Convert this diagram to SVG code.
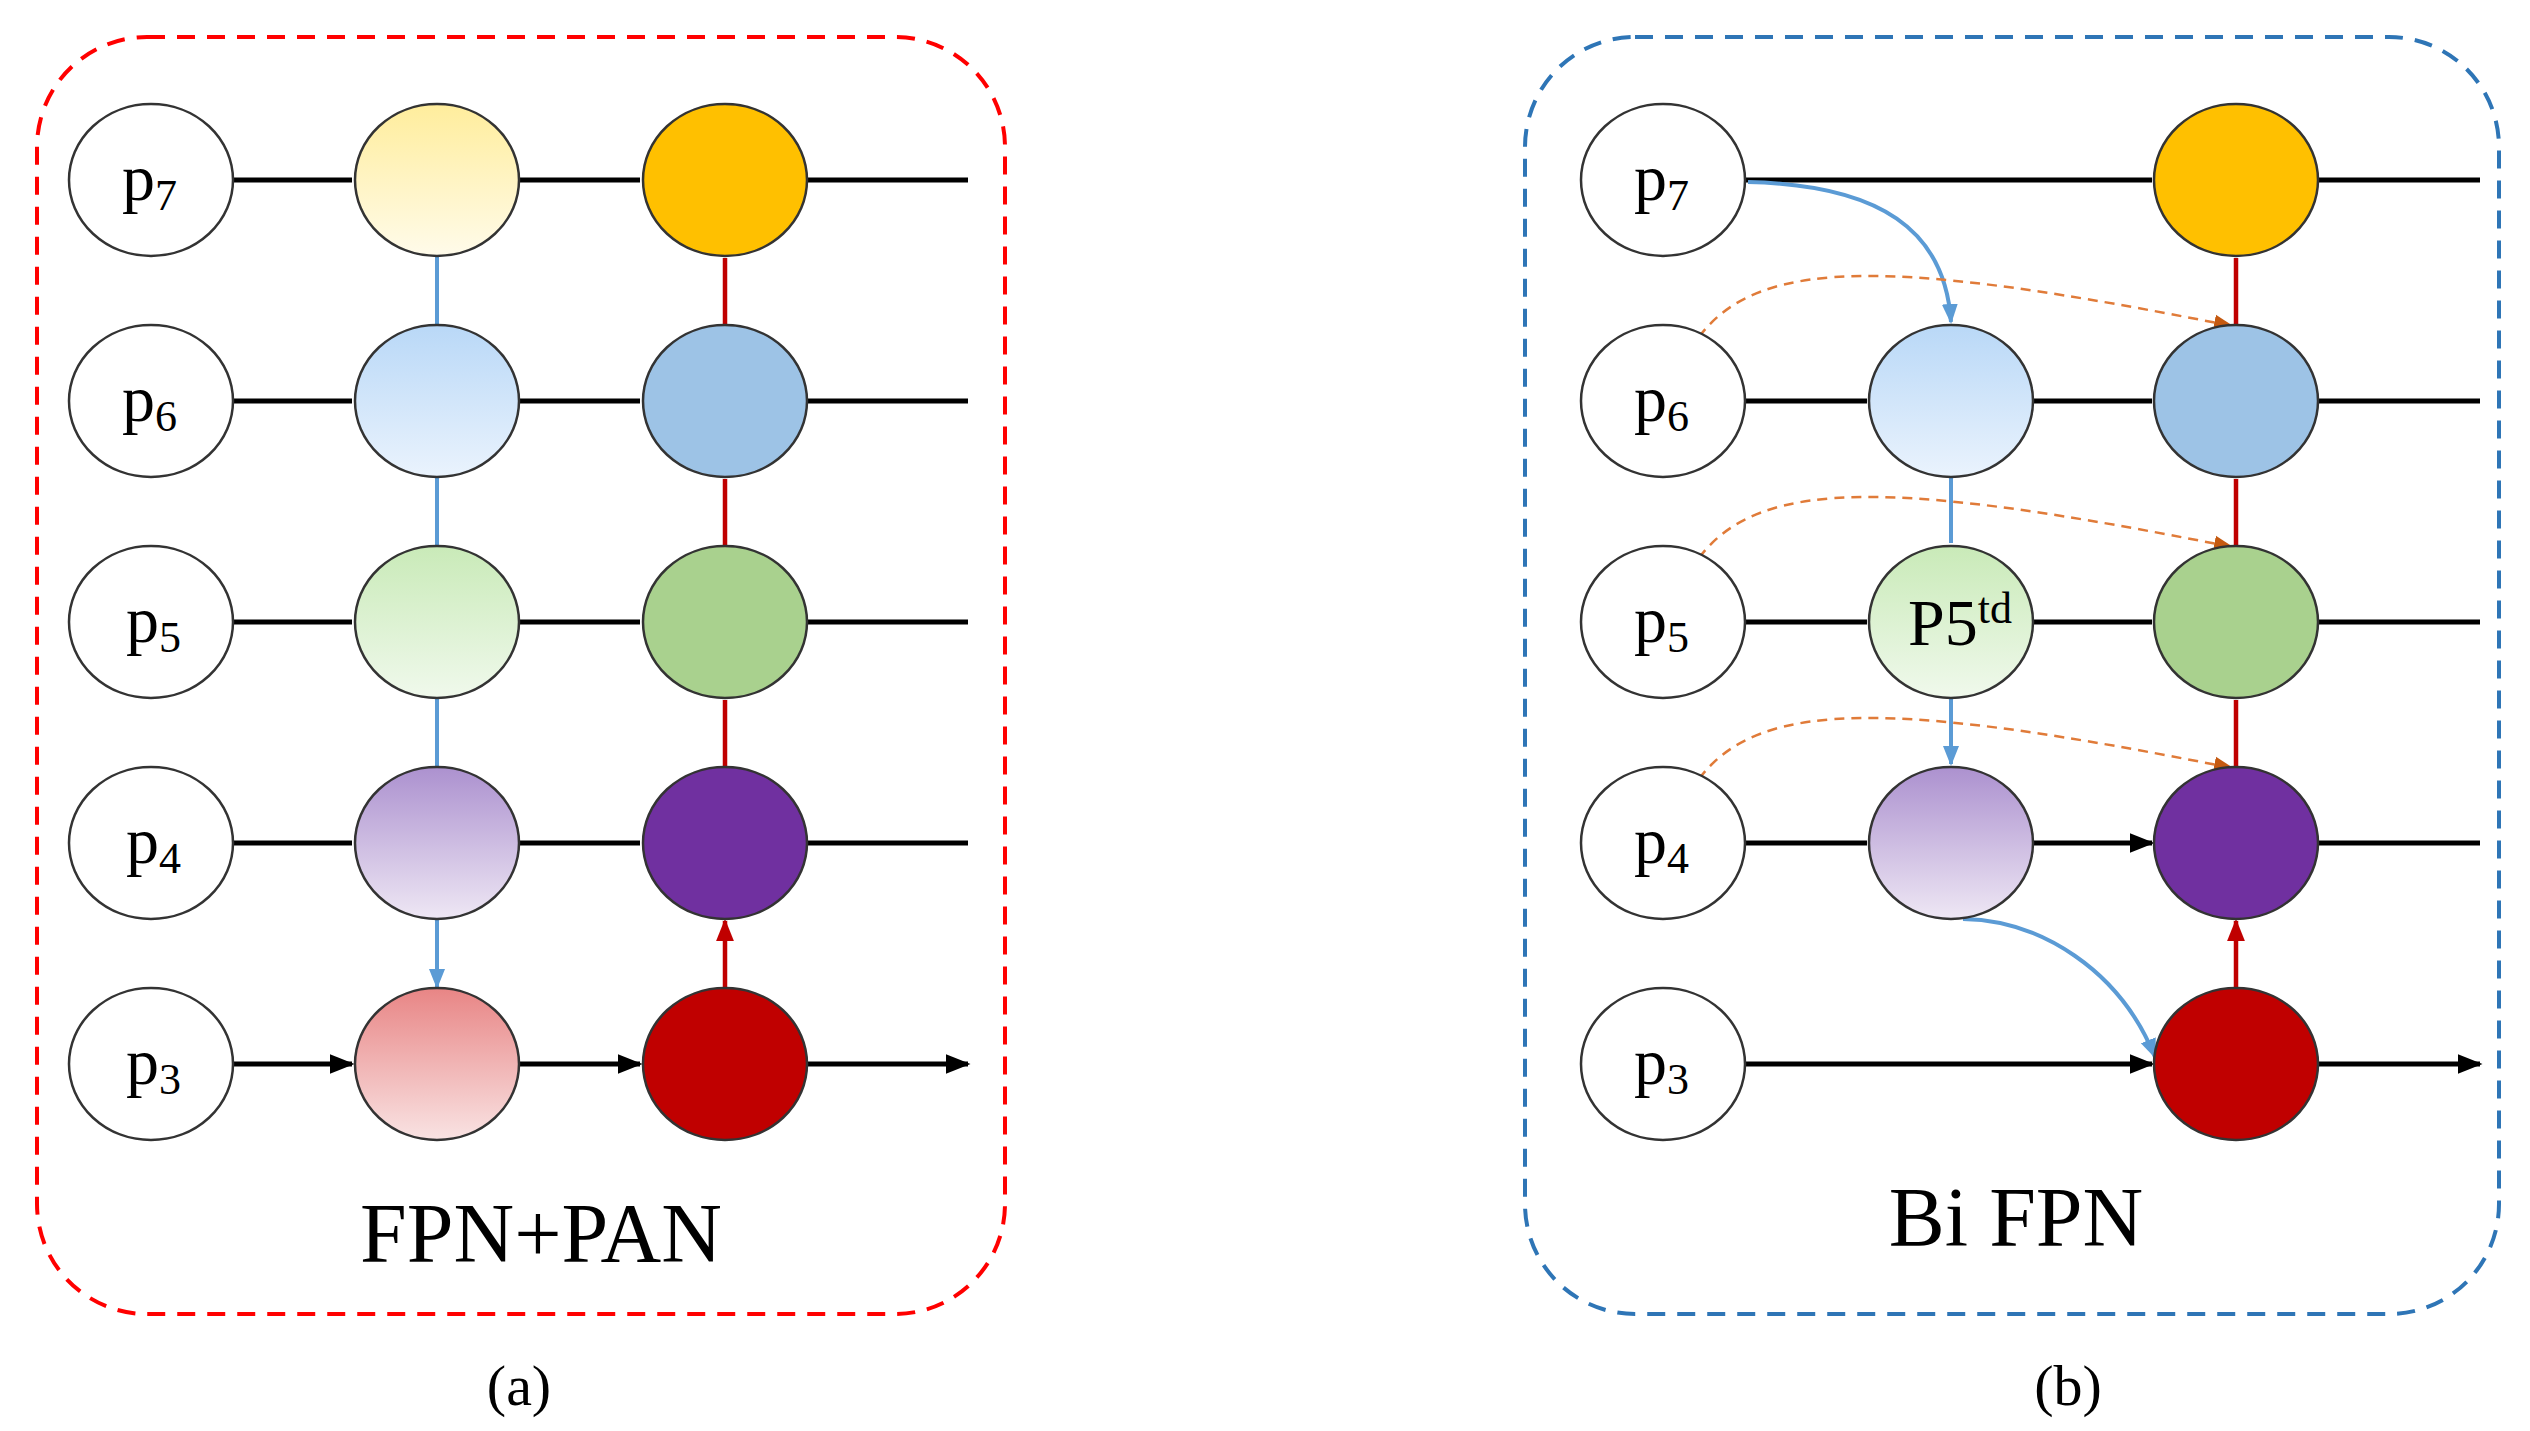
<svg xmlns="http://www.w3.org/2000/svg" width="2530" height="1431" viewBox="0 0 2530 1431">
<style>
.e{stroke:#333;stroke-width:2.5}
.w{fill:#fff}
.k{stroke:#000;stroke-width:5;fill:none}
.b{stroke:#5b9bd5;stroke-width:4;fill:none}
.r{stroke:#c00000;stroke-width:4.5;fill:none}
.o{stroke:#e07b39;stroke-width:2.5;fill:none;stroke-dasharray:10 7}
.t{font-family:"Liberation Serif",serif;font-size:66px;fill:#000}
.s{font-size:44px}
</style>
<defs>
<marker id="ak" viewBox="0 0 10 10" refX="9" refY="5" markerWidth="5" markerHeight="5" orient="auto" markerUnits="strokeWidth"><path d="M0,1L10,5L0,9z" fill="#000"/></marker>
<marker id="ab" viewBox="0 0 10 10" refX="9" refY="5" markerWidth="5" markerHeight="5" orient="auto" markerUnits="strokeWidth"><path d="M0,1L10,5L0,9z" fill="#5b9bd5"/></marker>
<marker id="ar" viewBox="0 0 10 10" refX="9" refY="5" markerWidth="5" markerHeight="5" orient="auto" markerUnits="strokeWidth"><path d="M0,1L10,5L0,9z" fill="#c00000"/></marker>
<marker id="ao" viewBox="0 0 10 10" refX="9" refY="5" markerWidth="8" markerHeight="8" orient="auto" markerUnits="strokeWidth"><path d="M0,1L10,5L0,9z" fill="#c55a11"/></marker>
<linearGradient id="gy" x1="0" y1="0" x2="0" y2="1"><stop offset="0" stop-color="#ffed9c"/><stop offset="1" stop-color="#fffbea"/></linearGradient>
<linearGradient id="gb" x1="0" y1="0" x2="0" y2="1"><stop offset="0" stop-color="#b9d8f7"/><stop offset="1" stop-color="#eaf3fd"/></linearGradient>
<linearGradient id="gg" x1="0" y1="0" x2="0" y2="1"><stop offset="0" stop-color="#c9eab8"/><stop offset="1" stop-color="#f0f9ec"/></linearGradient>
<linearGradient id="gp" x1="0" y1="0" x2="0" y2="1"><stop offset="0" stop-color="#ac91cf"/><stop offset="1" stop-color="#eee7f4"/></linearGradient>
<linearGradient id="gr" x1="0" y1="0" x2="0" y2="1"><stop offset="0" stop-color="#e88585"/><stop offset="1" stop-color="#f9e3e3"/></linearGradient>
</defs>
<rect x="37" y="37" width="968" height="1277" rx="110" fill="none" stroke="#ff0000" stroke-width="4" stroke-dasharray="18 12"/>
<rect x="1525" y="37" width="974" height="1277" rx="110" fill="none" stroke="#2e75b6" stroke-width="4" stroke-dasharray="18 12"/>
<g id="connectors">
<path class="k" d="M233,180H352M233,401H352M233,622H352M233,843H352M233,1064H352" marker-end="url(#ak)"/>
<path class="k" d="M519,180H640M519,401H640M519,622H640M519,843H640M519,1064H640" marker-end="url(#ak)"/>
<path class="k" d="M807,180H968M807,401H968M807,622H968M807,843H968M807,1064H968" marker-end="url(#ak)"/>
<path class="b" d="M437,256V324M437,477V545M437,698V766M437,919V987" marker-end="url(#ab)"/>
<path class="r" d="M725,326V258M725,547V479M725,768V700M725,989V921" marker-end="url(#ar)"/>
<path class="k" d="M1745,180H2152M1745,401H1867M1745,622H1867M1745,843H1867M1745,1064H2152" marker-end="url(#ak)"/>
<path class="k" d="M2033,401H2152M2033,622H2152M2033,843H2152" marker-end="url(#ak)"/>
<path class="k" d="M2318,180H2480M2318,401H2480M2318,622H2480M2318,843H2480M2318,1064H2480" marker-end="url(#ak)"/>
<path class="b" d="M1748,182C1880,185 1945,230 1951,322" marker-end="url(#ab)"/>
<path class="b" d="M1951,477V543M1951,698V764" marker-end="url(#ab)"/>
<path class="b" d="M1963,919C2040,920 2120,970 2155,1057" marker-end="url(#ab)"/>
<path class="r" d="M2236,326V258M2236,547V479M2236,768V700M2236,989V921" marker-end="url(#ar)"/>
<path class="o" d="M1699,337C1760,255 1900,260 2232,326" marker-end="url(#ao)"/>
<path class="o" d="M1699,558C1760,476 1900,481 2232,547" marker-end="url(#ao)"/>
<path class="o" d="M1699,779C1760,697 1900,702 2232,768" marker-end="url(#ao)"/>
</g>
<g id="left-nodes">
<g id="a-p7"><ellipse class="e w" cx="151" cy="180" rx="82" ry="76"/><text class="t" x="122" y="200">p<tspan class="s" dy="10">7</tspan></text></g>
<g id="a-p6"><ellipse class="e w" cx="151" cy="401" rx="82" ry="76"/><text class="t" x="122" y="421">p<tspan class="s" dy="10">6</tspan></text></g>
<g id="a-p5"><ellipse class="e w" cx="151" cy="622" rx="82" ry="76"/><text class="t" x="126" y="642">p<tspan class="s" dy="10">5</tspan></text></g>
<g id="a-p4"><ellipse class="e w" cx="151" cy="843" rx="82" ry="76"/><text class="t" x="126" y="863">p<tspan class="s" dy="10">4</tspan></text></g>
<g id="a-p3"><ellipse class="e w" cx="151" cy="1064" rx="82" ry="76"/><text class="t" x="126" y="1084">p<tspan class="s" dy="10">3</tspan></text></g>
<ellipse id="a-m7" class="e" cx="437" cy="180" rx="82" ry="76" fill="url(#gy)"/>
<ellipse id="a-m6" class="e" cx="437" cy="401" rx="82" ry="76" fill="url(#gb)"/>
<ellipse id="a-m5" class="e" cx="437" cy="622" rx="82" ry="76" fill="url(#gg)"/>
<ellipse id="a-m4" class="e" cx="437" cy="843" rx="82" ry="76" fill="url(#gp)"/>
<ellipse id="a-m3" class="e" cx="437" cy="1064" rx="82" ry="76" fill="url(#gr)"/>
<ellipse id="a-o7" class="e" cx="725" cy="180" rx="82" ry="76" fill="#ffc000"/>
<ellipse id="a-o6" class="e" cx="725" cy="401" rx="82" ry="76" fill="#9dc3e6"/>
<ellipse id="a-o5" class="e" cx="725" cy="622" rx="82" ry="76" fill="#a9d18e"/>
<ellipse id="a-o4" class="e" cx="725" cy="843" rx="82" ry="76" fill="#7030a0"/>
<ellipse id="a-o3" class="e" cx="725" cy="1064" rx="82" ry="76" fill="#c00000"/>
</g>
<g id="right-nodes">
<g id="b-p7"><ellipse class="e w" cx="1663" cy="180" rx="82" ry="76"/><text class="t" x="1634" y="200">p<tspan class="s" dy="10">7</tspan></text></g>
<g id="b-p6"><ellipse class="e w" cx="1663" cy="401" rx="82" ry="76"/><text class="t" x="1634" y="421">p<tspan class="s" dy="10">6</tspan></text></g>
<g id="b-p5"><ellipse class="e w" cx="1663" cy="622" rx="82" ry="76"/><text class="t" x="1634" y="642">p<tspan class="s" dy="10">5</tspan></text></g>
<g id="b-p4"><ellipse class="e w" cx="1663" cy="843" rx="82" ry="76"/><text class="t" x="1634" y="863">p<tspan class="s" dy="10">4</tspan></text></g>
<g id="b-p3"><ellipse class="e w" cx="1663" cy="1064" rx="82" ry="76"/><text class="t" x="1634" y="1084">p<tspan class="s" dy="10">3</tspan></text></g>
<ellipse id="b-m6" class="e" cx="1951" cy="401" rx="82" ry="76" fill="url(#gb)"/>
<g id="b-m5"><ellipse class="e" cx="1951" cy="622" rx="82" ry="76" fill="url(#gg)"/><text class="t" x="1908" y="645">P5<tspan class="s" dy="-22">td</tspan></text></g>
<ellipse id="b-m4" class="e" cx="1951" cy="843" rx="82" ry="76" fill="url(#gp)"/>
<ellipse id="b-o7" class="e" cx="2236" cy="180" rx="82" ry="76" fill="#ffc000"/>
<ellipse id="b-o6" class="e" cx="2236" cy="401" rx="82" ry="76" fill="#9dc3e6"/>
<ellipse id="b-o5" class="e" cx="2236" cy="622" rx="82" ry="76" fill="#a9d18e"/>
<ellipse id="b-o4" class="e" cx="2236" cy="843" rx="82" ry="76" fill="#7030a0"/>
<ellipse id="b-o3" class="e" cx="2236" cy="1064" rx="82" ry="76" fill="#c00000"/>
</g>
<g id="labels" font-family="Liberation Serif, serif" text-anchor="middle">
<text x="541" y="1262" font-size="84">FPN+PAN</text>
<text x="2016" y="1246" font-size="84">Bi FPN</text>
<text x="519" y="1405" font-size="58">(a)</text>
<text x="2068" y="1405" font-size="58">(b)</text>
</g>
</svg>
